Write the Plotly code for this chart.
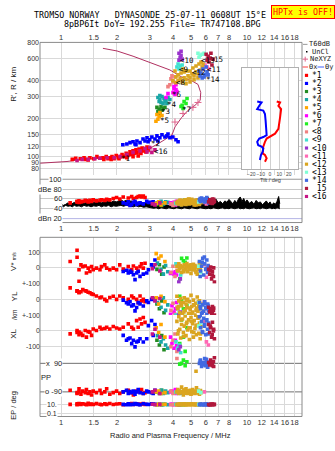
import math
import plotly.graph_objects as go

# ----------------------------- data -----------------------------
FREQ_TICKS = [1, 1.5, 2, 3, 4, 5, 6, 7, 8, 10, 12, 14, 16, 18]
FREQ_LABELS = ["1", "1.5", "2", "3", "4", "5", "6", "7", "8", "10", "12", "14", "16", "18"]
HEIGHT_TICKS = [80, 90, 100, 120, 150, 200, 300, 400, 600, 800]
DBE_TICKS = [100, 80, 60, 40, 20]
DBE_LABELS = ["100", "dBe 80", "60", "40", "dBn 20"]
TILT_TICKS = [-20, -10, 0, 10, 20]
V_TICKS, V_LABELS = [100, 0, -100], ["100", "0", ""]
YL_TICKS, YL_LABELS = [100, 0, -100], ["+-100", "0", "+-100"]
XL_TICKS, XL_LABELS = [100, 0, -100], ["", "0", "-100"]
PP_TICKS, PP_LABELS = [90, -90], ["x  90", "o -90"]
EP_TICKS, EP_LABELS = [10, 0.1], ["10.", "0.1"]

CLASSES = ["*1", "*2", "*3", "*4", "*5", "*6", "*7", "<8", "<9", "<10", "<11", "<12", "<13", "*14", " 15", "<16"]
COLORS = ["#ff0000", "#0000ff", "#228b22", "#1aa6a6", "#ffa500", "#ff00ff", "#22ee22", "#f08080",
          "#40e0d0", "#9932cc", "#ff69b4", "#daa520", "#7fffd4", "#4169e1", "#b0183c", "#c71585"]

# NeXYZ profile (MHz, km)
NE_F = [1.68, 2.0, 2.44, 2.76, 3.28, 3.85, 4.53, 5.04, 5.45, 5.64, 5.6, 5.25, 4.82, 4.46, 4.1, 3.95,
        3.4, 3.0, 2.44, 2.0, 1.62, 1.31, 1.077, 0.77]
NE_H = [723, 689, 626, 583, 533, 487, 422, 400, 374, 322, 279, 255, 233, 205, 172, 148,
        129, 116, 106, 100, 97, 95, 91.4, 88.6]
NE_MK_F = [5.45, 5.12, 4.53, 4.10, 3.95, 3.0]
NE_MK_H = [269, 246, 220, 188, 143, 115]

# virtual height echoes per class (MHz, km)
TOP_F = {
    "*1": [1.15, 1.20, 1.27, 1.33, 1.36, 1.43, 1.50, 1.56, 1.62, 1.68, 1.75, 1.79, 1.83, 1.88, 1.93, 1.98,
           2.03, 2.08, 2.13, 2.18, 2.24, 2.29, 2.35, 2.38, 2.44, 2.47, 2.53, 2.56, 2.63, 2.66, 2.73, 2.76,
           2.83, 2.86, 2.69, 2.60, 2.44, 2.26, 2.05, 1.86, 2.94, 2.90, 2.72, 2.50, 2.32, 1.70, 1.40],
    "*2": [2.15, 2.26, 2.35, 2.44, 2.50, 2.56, 2.66, 2.76, 2.83, 2.90, 3.00, 3.08, 3.20, 3.28, 3.40, 3.49,
           3.62, 3.71, 3.85, 3.99, 4.15, 4.26, 3.76, 3.32, 2.94, 2.53],
    "*3": [3.28, 3.37, 3.45, 3.54, 3.32, 3.40, 3.49, 3.62],
    "*4": [3.32, 3.40, 3.49, 3.58, 3.67, 3.76, 3.45, 3.54, 3.62, 3.37, 3.71, 3.85, 3.40],
    "*5": [3.28, 3.37, 3.32, 3.40, 3.49, 3.24],
    "*6": [4.05, 4.15, 4.00, 4.10, 4.20, 4.05, 4.15, 3.67, 3.76],
    "*7": [4.48, 4.59, 4.70, 4.76, 4.53, 4.42],
    "<8": [3.90, 4.00, 3.85, 4.10, 3.95, 3.76],
    "<9": [4.26, 4.37, 4.20, 4.48, 4.31],
    "<10": [4.31, 4.42, 4.37, 4.48, 4.31, 4.42],
    "<11": [5.95, 6.10, 5.80, 6.25],
    "<12": [4.15, 4.26, 4.37, 4.48, 4.59, 4.70, 4.82, 4.94, 5.06, 5.19, 5.32, 5.45, 5.60, 5.74, 4.26, 4.42,
            4.59, 4.76, 4.94, 5.12, 5.32, 5.52, 5.66, 5.80, 4.15, 4.70, 4.94, 5.19, 5.45, 4.10, 4.53, 4.00],
    "<13": [5.45, 5.60, 5.74, 5.52, 5.88],
    "*14": [5.52, 5.66, 5.80, 5.95, 6.10, 5.88, 5.60, 6.03, 6.18, 5.74],
    " 15": [6.03, 6.18, 6.33, 6.10, 6.40, 6.25, 6.48, 6.57],
    "<16": [1.22, 1.30, 1.40, 1.52, 1.62, 1.77, 1.93, 2.08, 2.26, 2.44, 2.66, 2.83, 3.00, 3.20, 3.08, 2.90],
}
TOP_H = {
    "*1": [95, 97, 96, 98, 95, 98, 96, 100, 97, 98, 100, 96, 98, 100, 96, 102, 98, 100, 104, 100, 106, 102,
           109, 104, 111, 106, 113, 107, 115, 109, 117, 111, 115, 109, 106, 101, 100, 98, 96, 95, 113, 119,
           113, 109, 104, 95, 94],
    "*2": [124, 126, 129, 131, 126, 133, 129, 138, 133, 141, 136, 143, 138, 146, 141, 149, 143, 146, 141,
           143, 136, 131, 151, 133, 131, 124],
    "*3": [246, 237, 250, 241, 228, 220, 233, 246],
    "*4": [294, 284, 300, 289, 279, 294, 269, 264, 274, 274, 264, 284, 305],
    "*5": [216, 209, 198, 224, 212, 191],
    "*6": [359, 340, 322, 311, 328, 346, 372, 294, 316],
    "*7": [255, 274, 264, 289, 241, 250],
    "<8": [414, 392, 372, 429, 437, 359],
    "<9": [543, 523, 514, 533, 496],
    "<10": [661, 637, 615, 594, 583, 685],
    "<11": [533, 514, 496, 496],
    "<12": [385, 400, 414, 392, 421, 407, 437, 421, 453, 437, 470, 453, 487, 514, 445, 461, 470, 478, 478,
            505, 523, 543, 563, 543, 429, 378, 392, 407, 421, 478, 496, 400],
    "<13": [661, 637, 649, 615, 661],
    "*14": [478, 461, 496, 445, 470, 429, 437, 514, 445, 421],
    " 15": [649, 626, 604, 583, 661, 563, 533, 594],
    "<16": [93, 95, 95, 96, 97, 98, 98, 100, 104, 108, 111, 116, 118, 113, 108, 109],
}

# class label positions (MHz, km)
LBL_TEXT = ["*1", "*2", "*3", "*4", "*5", "*6", "*7", "<8", "<9", "<10", "<11", "<12", "<13", "*14", "15", "<16"]
LBL_F = [2.21, 3.24, 3.64, 3.95, 3.62, 4.21, 4.75, 4.42, 4.53, 4.75, 6.65, 5.52, 6.15, 6.57, 7.07, 3.45]
LBL_H = [96.5, 128, 229, 259, 195, 310, 237, 385, 495, 582, 487, 461, 580, 406, 594, 109]

# tilt profiles (deg, km)
TILT_HX = [274, 269, 253, 238, 205, 182, 166, 152, 145, 139, 131, 120, 106, 103, 97, 91]
TILT_X = [7.2, 10.8, 9, 11.9, 10.8, 9.7, 9, 5.4, 0, -3.6, -5.4, -7.2, -7.9, -5.4, -3.6, -5.4]
TILT_HY = [274, 269, 253, 238, 232, 218, 193, 172, 148, 143, 139, 131, 123, 120, 116, 109, 103, 94]
TILT_Y = [-13.7, -9, -11.5, -13.7, -7.2, -5.4, -4.7, -4.3, -3.6, -7.2, -11.5, -13.7, -12.6, -9, -7.2,
          -7.9, -9.7, -10.8]

# unclassified amplitude band (MHz, dB)
UNC_F = [1.0, 1.03, 1.06, 1.09, 1.12, 1.15, 1.18, 1.21, 1.25, 1.29, 1.33, 1.37, 1.41, 1.45, 1.5,
         1.55, 1.6, 1.65, 1.7, 1.75, 1.8, 1.86, 1.92, 1.98,
         2.04, 2.1, 2.17, 2.24, 2.31, 2.38, 2.45, 2.53, 2.61, 2.69, 2.78, 2.87, 2.96, 3.05,
         3.15, 3.25, 3.35, 3.46, 3.57, 3.68, 3.8, 3.92, 4.05, 4.18, 4.31, 4.45, 4.6, 4.75, 4.9, 5.05,
         5.2, 5.4, 5.6, 5.8, 6.0,
         6.2, 6.4, 6.6, 6.8, 7.0, 7.2, 7.4, 7.6, 7.8, 8.0, 8.2, 8.4, 8.6, 8.8, 9.0, 9.2, 9.4, 9.6, 9.8,
         10.0, 10.3, 10.6, 10.9, 11.2, 11.5, 11.8, 12.1, 12.4, 12.7, 13.0, 13.3, 13.6, 13.9, 14.2, 14.5,
         14.8, 15.0]
UNC_HI = [50, 47, 49, 52, 48, 51, 53, 50, 52, 54, 51, 55, 52, 50, 54,
          53, 56, 52, 55, 54, 57, 53, 56, 54,
          56, 58, 55, 57, 54, 56, 53, 55, 52, 54, 50, 52, 49, 51,
          48, 50, 47, 49, 46, 48, 47, 49, 46, 48, 47, 50, 46, 48, 47, 49, 46, 50, 48, 52, 55,
          63, 58, 54, 60, 52, 55, 50, 56, 53, 59, 54, 50, 57, 52, 60, 64, 55, 61, 53, 58, 51, 55, 49, 57,
          52, 54, 48, 53, 56, 50, 54, 47, 52, 49, 55, 65, 50]
UNC_LO = [46, 44, 47, 45, 46, 44, 47, 45, 46, 44, 47, 45, 46, 44, 46,
          45, 47, 44, 46, 45, 47, 44, 46, 45,
          46, 47, 45, 47, 46, 45, 44, 46, 44, 45, 43, 44, 43, 42,
          41, 42, 40, 42, 41, 40, 42, 41, 40, 42, 41, 40, 42, 41, 40, 42, 41, 40, 42, 41, 40,
          41, 40, 42, 41, 40, 41, 42, 40, 41, 40, 42, 41, 40, 41, 42, 40, 41, 40, 42, 41, 40, 41, 42, 40,
          41, 40, 42, 41, 40, 41, 42, 40, 41, 40, 42, 41, 40]

# per-echo parameters for the lower panels (MHz; m/s; km; km; deg; deg; dB)
LO_F = {
    "*1": [1.12, 1.22, 1.22, 1.25, 1.25, 1.28, 1.31, 1.35, 1.37, 1.40, 1.43, 1.46, 1.49, 1.55, 1.62, 1.65,
           1.72, 1.76, 1.83, 1.91, 1.99, 2.07, 2.16, 2.30, 2.40, 2.45, 2.55, 2.66, 2.71, 2.77, 2.83, 2.60],
    "*2": [2.16, 2.25, 2.30, 2.40, 2.45, 2.50, 2.55, 2.60, 2.66, 2.77, 2.89, 2.95, 3.07, 3.20, 3.13, 2.35],
    "*3": [3.28, 3.38, 3.48, 3.58],
    "*4": [3.30, 3.45, 3.55, 3.65, 3.75],
    "*5": [3.25, 3.35, 3.45, 3.62],
    "*6": [3.95, 4.05, 4.12, 4.18, 3.88],
    "*7": [4.45, 4.55, 4.65, 4.75, 4.35],
    "<8": [3.90, 4.00, 4.10, 4.20],
    "<9": [4.25, 4.32, 4.40, 4.15],
    "<10": [4.30, 4.38],
    "<11": [5.90, 6.05, 6.20],
    "<12": [4.20, 4.25, 4.30, 4.35, 4.40, 4.45, 4.50, 4.55, 4.60, 4.65, 4.70, 4.75, 4.80, 4.85, 4.90, 4.95,
            5.00, 5.05, 5.10, 5.15, 5.20, 5.25, 5.30, 5.35, 5.40, 5.45, 5.50, 5.55, 5.60, 5.65,
            4.28, 4.42, 4.58, 4.72, 4.88, 5.02, 5.18, 5.32, 5.48, 5.62],
    "<13": [5.50, 5.65],
    "*14": [5.55, 5.62, 5.70, 5.78, 5.85, 5.92, 6.00, 6.08, 6.15, 6.22, 5.60, 5.75, 5.90, 6.05, 6.18],
    " 15": [6.22, 6.30, 6.38, 6.45, 6.52, 6.60, 6.68, 6.35, 6.50, 6.62],
    "<16": [3.10, 3.20, 3.40],
}
LO_V = {
    "*1": [40, 112, 67, -85, -12, 19, 8, 12, -33, -2, -23, 8, -12, -2, -12, 8, 19, -2, -12, -2, -12, 19,
           -8, 8, -12, 12, -2, 8, 25, -2, 29, -20],
    "*2": [-23, -15, -33, -28, -44, -75, -33, -23, -54, -40, -33, -12, 19, 50, 5, -20],
    "*3": [-10, 20, -40, 5],
    "*4": [30, -10, -40, 15, -25],
    "*5": [90, 60, 75, 40],
    "*6": [-30, -40, -25, -45, -35],
    "*7": [60, 45, 35, 62, -70],
    "<8": [-30, 10, -55, -15],
    "<9": [-20, 10, -45, 25],
    "<10": [-90, -70],
    "<11": [20, -60, 5],
    "<12": [10, -20, 25, -5, 15, -30, 5, -15, 20, -10, 0, 28, -25, 12, -8, 18, -35, 3, -12, 22, -3, 14,
            -20, 8, -40, 2, -10, 30, -5, 15, -15, 5, -25, 10, -2, 20, -12, -30, 6, -18],
    "<13": [10, -30],
    "*14": [40, -20, 10, 60, -45, 25, -10, 50, -30, 0, -55, 35, 69, -5, 15],
    " 15": [-10, -40, 5, -70, -25, -55, -90, -15, -45, 0],
    "<16": [-5, 20, -20],
}
LO_YL = {
    "*1": [73, 52, 55, 42, 45, 48, 62, 55, 52, 45, 42, 35, 31, 21, 10, 15, 0, -10, 12, 20, 0, 21, 10, 0,
           21, 10, 0, 21, -10, 0, -15, -21],
    "*2": [-5, -21, -30, -42, -35, -73, -52, -21, -30, -42, -10, -20, 0, -4, 5, -15],
    "*3": [-30, -60, -10, -85],
    "*4": [-20, -50, 10, -70, -35],
    "*5": [10, -30, 20, -15],
    "*6": [-40, -80, -60, -20, -95],
    "*7": [-10, -60, -110, -40, 20],
    "<8": [-70, -25, -95, -50],
    "<9": [-60, -85, -30, -100],
    "<10": [-100, -80],
    "<11": [-15, -105, -70],
    "<12": [20, -60, -10, -85, 5, -40, -95, -20, 10, -70, -30, -50, 0, -90, -15, -65, 25, -45, -80, -5,
            -35, -100, -25, -55, 15, -75, -40, -10, -60, -30, -45, -20, -80, -5, -55, -90, -35, -70, -15, -50],
    "<13": [-20, -40],
    "*14": [-20, -60, -90, -35, -75, -15, -50, -95, -30, -70, -45, -85, -25, -60, -40],
    " 15": [-50, -80, -60, -95, -45, -70, -100, -65, -85, -55],
    "<16": [10, -10, 5],
}
LO_XL = {
    "*1": [-19, 2, -10, -8, -25, -15, -29, 2, -40, -5, -8, -29, 12, 2, 23, 12, 15, 23, 12, 28, 18, 12, 23,
           44, 23, 12, 65, 75, 44, 85, 54, 23],
    "*2": [-29, -60, -50, -81, -60, -102, -71, -65, -50, -71, -50, 33, 65, 40, -29, -45],
    "*3": [-60, -90, -30, -120],
    "*4": [-30, -70, -50, -90, -110],
    "*5": [20, -10, 40, -40],
    "*6": [-80, -110, -60, -95, -40],
    "*7": [70, -40, -130, 20, -80],
    "<8": [-100, -60, -20, -130],
    "<9": [-110, -90, -140, -70],
    "<10": [-120, -100],
    "<11": [60, -70, -90],
    "<12": [60, -20, 90, 10, -45, 40, 75, -10, 30, 95, -30, 55, 5, 70, -55, 20, 85, -5, 45, -40, 65, 15,
            100, -25, 35, 80, -15, 50, -50, 25, 0, 70, -35, 45, 20, 60, -10, 35, 90, -20],
    "<13": [30, 50],
    "*14": [90, 20, 60, -10, 80, 40, -25, 70, 10, 50, 100, -5, 30, 65, -20],
    " 15": [40, -10, 20, -40, 55, 0, -50, 30, -25, 10],
    "<16": [-20, 10, -40],
}
LO_PP = {
    "*1": [-80, -95, -100, -70, -90, -105, -85, -95, -75, -100, -90, -110, -85, -95, -80, -100, -90, -70,
           -105, -95, -85, -100, -90, -80, -95, -110, -85, -90, -75, -100, -95, -88],
    "*2": [-90, -80, -100, -95, -85, -105, -90, -75, -95, -100, -85, -90, -95, -80, -100, -88],
    "*3": [-90, -100, -80, -95],
    "*4": [-90, -80, -100, -85, -95],
    "*5": [-90, -85, -100, -95],
    "*6": [-85, -95, -75, -100, -90],
    "*7": [90, 110, 75, 100, 85],
    "<8": [-85, -100, -95, 120],
    "<9": [-95, -85, -100, -90],
    "<10": [-90, -95],
    "<11": [-90, 110, 95],
    "<12": [-90, -75, -100, -85, -95, -60, -90, -110, -80, -95, -70, -90, -100, -85, -95, -80, -105, -90,
            -75, -95, -85, -100, -90, -65, -95, -80, -90, -105, -85, -95, -88, -92, -78, -98, -84, -102,
            -90, 40, -96, -82],
    "<13": [-85, -95],
    "*14": [90, 110, 70, 95, 85, 120, 75, 100, 65, 90, 105, 80, 95, 115, 85],
    " 15": [95, 80, 110, 90, 75, 100, 125, 85, 95, 70],
    "<16": [-90, -80, -100],
}
LO_EP = {
    "*1": [12, 15, 10, 18, 14, 11, 16, 13, 10, 20, 12, 14, 11, 17, 13, 10, 15, 12, 18, 11, 14, 16, 10, 13,
           19, 12, 15, 11, 14, 17, 12, 13],
    "*2": [12, 10, 15, 13, 11, 18, 14, 12, 10, 16, 13, 11, 15, 12, 14, 10],
    "*3": [11, 13, 10, 12],
    "*4": [10, 12, 11, 13, 10],
    "*5": [10, 12, 11, 13],
    "*6": [12, 10, 14, 11, 13],
    "*7": [12, 10, 11, 13, 10],
    "<8": [10, 11, 12, 10],
    "<9": [11, 10, 12, 13],
    "<10": [10, 11],
    "<11": [11, 12, 10],
    "<12": [10, 12, 11, 14, 10, 13, 12, 10, 15, 11, 12, 10, 13, 14, 11, 10, 12, 15, 11, 13, 10, 12, 14, 11,
            10, 13, 12, 11, 14, 10, 12, 11, 13, 10, 12, 14, 11, 10, 13, 12],
    "<13": [12, 10],
    "*14": [10, 12, 11, 13, 10, 12, 14, 11, 10, 12, 13, 11, 10, 12, 11],
    " 15": [11, 10, 12, 13, 10, 11, 12, 10, 14, 11],
    "<16": [13, 11, 12],
}
LO_AMP = {
    "*1": [52, 54, 55, 53, 56, 54, 55, 57, 56, 54, 57, 55, 58, 56, 57, 58, 57, 59, 58, 61, 63, 60, 64, 62,
           65, 61, 63, 66, 64, 66, 63, 65],
    "*2": [52, 50, 54, 49, 53, 55, 49, 51, 52, 50, 55, 53, 53, 51, 54, 47],
    "*3": [49, 52, 47, 51],
    "*4": [52, 55, 50, 54, 53],
    "*5": [51, 54, 48, 52],
    "*6": [50, 53, 48, 55, 52],
    "*7": [56, 53, 58, 51, 54],
    "<8": [50, 47, 53, 49],
    "<9": [52, 55, 49, 51],
    "<10": [50, 52],
    "<11": [53, 50, 55],
    "<12": [52, 55, 50, 57, 53, 48, 56, 51, 54, 58, 49, 55, 52, 60, 50, 56, 53, 59, 51, 55, 48, 57, 54, 50,
            58, 52, 56, 49, 55, 53, 51, 57, 50, 54, 59, 52, 55, 48, 56, 53],
    "<13": [54, 56],
    "*14": [58, 55, 62, 57, 60, 54, 59, 63, 56, 52, 61, 57, 55, 60, 58],
    " 15": [54, 58, 52, 56, 60, 53, 55, 57, 51, 59],
    "<16": [50, 48, 52],
}

# ----------------------------- geometry -----------------------------
W, H = 335, 451
L, R = 40, 302
F0, DEC = 61.0, 186.0            # px of 1 MHz, px per decade
XR = [(L - F0) / DEC, (R - F0) / DEC]


def fx(p):
    return p / W


def fy(p):
    return 1 - p / H


SANS = "Liberation Sans"
MONO = "DejaVu Sans Mono"
GRID = "#d9d9d9"
FRAME = "#8a8a8a"
TICKF = dict(family=SANS, size=7.5, color="#333")
YTICKF = dict(family=SANS, size=7, color="#333")

fig = go.Figure()

# ---- top panel: NeXYZ profile ----
fig.add_trace(go.Scatter(x=NE_F, y=NE_H, mode="lines", line=dict(color="#b03060", width=1),
                         xaxis="x", yaxis="y", hoverinfo="skip"))
fig.add_trace(go.Scatter(x=NE_MK_F, y=NE_MK_H, mode="markers",
                         marker=dict(symbol="cross-thin", size=5, line=dict(color="#e0608a", width=1)),
                         xaxis="x", yaxis="y", hoverinfo="skip"))
for cls, col in zip(CLASSES, COLORS):
    if cls in TOP_F:
        fig.add_trace(go.Scatter(x=TOP_F[cls], y=TOP_H[cls], mode="markers",
                                 marker=dict(symbol="square", size=3.6, color=col, line=dict(width=0)),
                                 xaxis="x", yaxis="y", hoverinfo="skip"))

# ---- tilt inset ----
fig.add_trace(go.Scatter(x=TILT_X, y=TILT_HX, mode="lines", line=dict(color="#ff0000", width=2),
                         xaxis="x3", yaxis="y3", hoverinfo="skip"))
fig.add_trace(go.Scatter(x=TILT_Y, y=TILT_HY, mode="lines", line=dict(color="#0000ff", width=2),
                         xaxis="x3", yaxis="y3", hoverinfo="skip"))

# ---- amplitude panel ----
fig.add_trace(go.Scatter(x=UNC_F, y=UNC_LO, mode="lines", line=dict(color="black", width=1),
                         xaxis="x2", yaxis="y2", hoverinfo="skip"))
fig.add_trace(go.Scatter(x=UNC_F, y=UNC_HI, mode="lines", line=dict(color="black", width=1),
                         fill="tonexty", fillcolor="black", xaxis="x2", yaxis="y2", hoverinfo="skip"))
for cls, col in zip(CLASSES, COLORS):
    fig.add_trace(go.Scatter(x=LO_F[cls], y=LO_AMP[cls], mode="markers",
                             marker=dict(symbol="square", size=3.6, color=col, line=dict(width=0)),
                             xaxis="x2", yaxis="y2", hoverinfo="skip"))

# ---- lower panels ----
for store, yax in [(LO_V, "y4"), (LO_YL, "y5"), (LO_XL, "y6"), (LO_PP, "y7"), (LO_EP, "y8")]:
    for cls, col in zip(CLASSES, COLORS):
        fig.add_trace(go.Scatter(x=LO_F[cls], y=store[cls], mode="markers",
                                 marker=dict(symbol="square", size=3.6, color=col, line=dict(width=0)),
                                 xaxis="x4", yaxis=yax, hoverinfo="skip"))

# ----------------------------- axes -----------------------------
def xlog(anchor, side="bottom", labels=True, grid=True):
    return dict(domain=[fx(L), fx(R)], type="log", range=XR, anchor=anchor,
                side=side, tickvals=FREQ_TICKS, ticktext=FREQ_LABELS, showticklabels=labels,
                tickangle=0, showgrid=grid, gridcolor=GRID, gridwidth=1, zeroline=False, showline=False,
                ticks="", tickfont=TICKF, fixedrange=True)


def ybox(top, bot, rng, tickvals, ticktext=None, typ="linear", labels=True, grid=True):
    d = dict(domain=[fy(bot), fy(top)], range=rng, type=typ, anchor="free", position=fx(L),
             tickvals=tickvals, showticklabels=labels, showgrid=grid, gridcolor=GRID,
             gridwidth=1, zeroline=False, showline=False, ticks="", tickfont=YTICKF, fixedrange=True)
    if ticktext is not None:
        d["ticktext"] = ticktext
    return d


PPS = 180.0 / (394 - 365)
layout = dict(
    width=W, height=H, autosize=False, margin=dict(l=0, r=0, t=0, b=0),
    paper_bgcolor="white", plot_bgcolor="white", showlegend=False,
    xaxis=xlog("y", side="top"),
    yaxis=dict(domain=[fy(174), fy(39)], type="log",
               range=[2 - (174 - 155) / 128.0, 2 + (155 - 39) / 128.0], anchor="x",
               tickvals=HEIGHT_TICKS, ticktext=[str(v) for v in HEIGHT_TICKS], showgrid=True,
               gridcolor=GRID, zeroline=False, showline=False, ticks="", tickfont=YTICKF,
               fixedrange=True),
    xaxis2=xlog("y2", grid=False),
    yaxis2=dict(domain=[fy(222), fy(174)], range=[12, 108], anchor="x2", tickvals=[80, 60, 40],
                showticklabels=False, showgrid=True, gridcolor="#c8c8c8", zeroline=False,
                showline=False, ticks="", fixedrange=True),
    xaxis3=dict(domain=[fx(242), fx(298)], range=[-30, 30], anchor="y3", tickvals=TILT_TICKS,
                tickangle=0, showgrid=True, gridcolor="#d0d0d0", zeroline=False, showline=True,
                mirror=True, linecolor="#b0b0b0", ticks="",
                tickfont=dict(family=SANS, size=5, color="#444"), fixedrange=True),
    yaxis3=dict(domain=[fy(168), fy(65)], type="log", range=[2 - 13 / 128.0, 2 + 90 / 128.0],
                anchor="x3", showticklabels=False, showgrid=False, zeroline=False, showline=True,
                mirror=True, linecolor="#b0b0b0", ticks="", fixedrange=True),
    xaxis4=xlog("y8"),
    yaxis4=ybox(237, 284, [-100, (268 - 237) / 16 * 100], V_TICKS, V_LABELS),
    yaxis5=ybox(284, 316, [-100, 100], YL_TICKS, YL_LABELS),
    yaxis6=ybox(316, 356, [-(356 - 332) / 16 * 100, 100], XL_TICKS, XL_LABELS),
    yaxis7=ybox(356, 401, [-(401 - 379.5) * PPS, (379.5 - 356) * PPS], PP_TICKS, labels=False,
                grid=False),
    yaxis8=ybox(401, 419, [1 - 12 / 4.5, 1 + 6 / 4.5], EP_TICKS, typ="log", labels=False),
)

shapes = []
# frames
shapes.append(dict(type="rect", xref="paper", yref="paper", x0=fx(L), x1=fx(R), y0=fy(222), y1=fy(39),
                   line=dict(color=FRAME, width=1), layer="above"))
shapes.append(dict(type="rect", xref="paper", yref="paper", x0=fx(L), x1=fx(R), y0=fy(419), y1=fy(237),
                   line=dict(color=FRAME, width=1), layer="above"))
# dBe 100 and dBn 20 reference lines
shapes.append(dict(type="line", xref="paper", yref="y2", x0=fx(L), x1=fx(R), y0=100, y1=100,
                   line=dict(color="#999999", width=1), layer="below"))
shapes.append(dict(type="line", xref="paper", yref="y2", x0=fx(L), x1=fx(R), y0=20, y1=20,
                   line=dict(color="#b4b4e6", width=1), layer="below"))
# polarisation reference lines
for v in PP_TICKS:
    shapes.append(dict(type="line", xref="paper", yref="y7", x0=fx(L), x1=fx(R), y0=v, y1=v,
                       line=dict(color="#707070", width=1), layer="below"))

ann = []


def text(x, y, s, size=8, color="#222", xa="center", ya="middle", family=SANS, angle=0, bg=None, **kw):
    d = dict(x=fx(x), y=fy(y), xref="paper", yref="paper", text=s, showarrow=False, xanchor=xa,
             yanchor=ya, textangle=angle, font=dict(size=size, color=color, family=family),
             borderpad=0)
    if bg:
        d["bgcolor"] = bg
    d.update(kw)
    ann.append(d)


# header
text(150, 11.5, "TROMSO NORWAY   DYNASONDE 25-07-11 0608UT 15°E", size=8.4, color="black", family=MONO)
text(162, 20.5, "8pBP6It DoY= 192.255 File= TR747108.BPG", size=8.4, color="black", family=MONO)
text(302.5, 8.5, "HPTx is OFF!", size=8.3, color="#ff0000", family=MONO, bg="#ffff00",
     bordercolor="#ff0000", borderwidth=1, borderpad=1)

# axis titles
text(14, 82, "R', R / km", size=8, angle=-90, color="#222")
text(14, 262, "V* <span style='font-size:5px'>m/s</span>", size=8, angle=-90)
text(14, 297, "YL", size=8, angle=-90)
text(14, 316, "/km", size=6.5, angle=-90)
text(14, 335, "XL", size=8, angle=-90)
text(14, 408, "EP / deg", size=7.5, angle=-90)
text(46, 379, "PP", size=7.5)
text(170, 438, "Radio and Plasma Frequency / MHz", size=7.5)
text(270, 178.5, "Tilt / deg", size=5.5, color="#444")

# inner labels (amplitude, PP, EP)
for v, s in zip(DBE_TICKS, DBE_LABELS):
    text(62.5, 178 + (100 - v) / 2.0, s, size=7.5, xa="right", bg="white")
for v, s in zip(PP_TICKS, PP_LABELS):
    text(62.5, 379.5 - v / PPS, s, size=7.5, xa="right", bg="white")
for v, s in zip(EP_TICKS, EP_LABELS):
    text(58, 407 - 4.5 * math.log10(v / 10.0), s, size=7, xa="right", bg="white")

# class labels in the height panel
for s, f, h in zip(LBL_TEXT, LBL_F, LBL_H):
    ann.append(dict(x=math.log10(f), y=math.log10(h), xref="x", yref="y", text=s, showarrow=False,
                    font=dict(size=7.5, color="black", family=MONO), xanchor="center", yanchor="middle",
                    borderpad=0))

# legend
LEG_X = 306.5
text(308, 41, "T60dB", size=7, family=MONO, xa="left")
shapes.append(dict(type="line", xref="paper", yref="paper", x0=fx(303), x1=fx(307.5), y0=fy(41),
                   y1=fy(41), line=dict(color="#999999", width=1)))
text(311, 48.5, "UnCl", size=7, family=MONO, xa="left")
shapes.append(dict(type="rect", xref="paper", yref="paper", x0=fx(306), x1=fx(307.5), y0=fy(49.2),
                   y1=fy(47.8), fillcolor="black", line=dict(width=0)))
text(308.5, 56, "NeXYZ", size=7, family=MONO, xa="left")
shapes.append(dict(type="line", xref="paper", yref="paper", x0=fx(302.5), x1=fx(308), y0=fy(56),
                   y1=fy(56), line=dict(color="#e0608a", width=1)))
shapes.append(dict(type="line", xref="paper", yref="paper", x0=fx(305.2), x1=fx(305.2), y0=fy(53.5),
                   y1=fy(58.5), line=dict(color="#e0608a", width=1)))
shapes.append(dict(type="line", xref="paper", yref="paper", x0=fx(302.5), x1=fx(308), y0=fy(64),
                   y1=fy(64), line=dict(color="#ff4040", width=1)))
text(308, 64, "Θx", size=7, family=MONO, xa="left")
shapes.append(dict(type="line", xref="paper", yref="paper", x0=fx(317.5), x1=fx(324), y0=fy(64),
                   y1=fy(64), line=dict(color="#4060ff", width=1)))
text(324, 64, "Θy", size=7, family=MONO, xa="left")
for i, (cls, col) in enumerate(zip(CLASSES, COLORS)):
    yy = 72.5 + 8.2 * i
    shapes.append(dict(type="rect", xref="paper", yref="paper", x0=fx(LEG_X - 1.6), x1=fx(LEG_X + 1.6),
                       y0=fy(yy + 1.6), y1=fy(yy - 1.6), fillcolor=col, line=dict(width=0)))
    text(311, yy, cls.replace(" ", "&nbsp;"), size=8, family=MONO, xa="left", color="black")

layout["shapes"] = shapes
layout["annotations"] = ann
fig.update_layout(**layout)

fig.write_html("out.html", config={"displayModeBar": False, "staticPlot": True})
